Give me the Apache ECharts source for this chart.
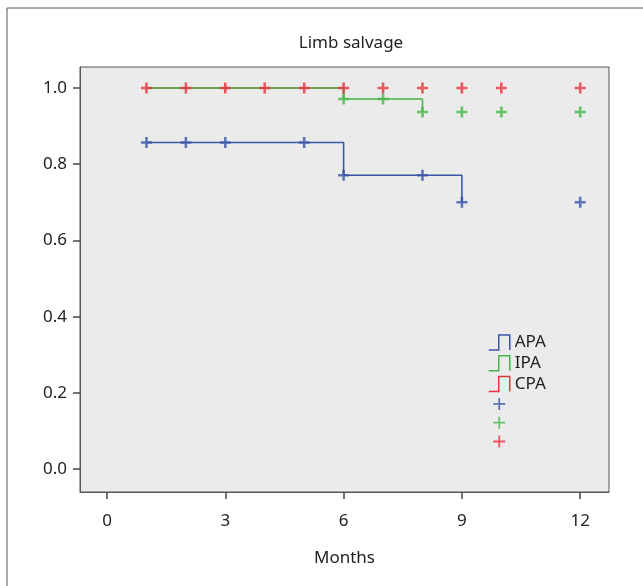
<!DOCTYPE html>
<html>
<head>
<meta charset="utf-8">
<script src="https://cdn.jsdelivr.net/npm/echarts@6/dist/echarts.min.js"></script>
<style>
html,body{margin:0;padding:0;background:#fff;}
#chart{width:643px;height:586px;}
</style>
</head>
<body>
<div id="chart"></div>
<script>
// ---- data ----
const xTicks = [0, 3, 6, 9, 12];
const yTicks = [0, 0.2, 0.4, 0.6, 0.8, 1.0];
const groups = ['APA', 'IPA', 'CPA'];
// Kaplan-Meier step points [month, survival]
const apaSteps = [[1, 0.857], [6, 0.771], [9, 0.70]];
const ipaSteps = [[1, 1.0], [6, 0.971], [8, 0.937]];
const cpaSteps = [[1, 1.0], [6, 1.0]];
// censored observations
const apaCensored = [[1, 0.857], [2, 0.857], [3, 0.857], [5, 0.857], [6, 0.771], [8, 0.771], [9, 0.70], [12, 0.70]];
const ipaCensored = [[6, 0.971], [7, 0.971], [8, 0.937], [9, 0.937], [10, 0.937], [12, 0.937]];
const cpaCensored = [[1, 1.0], [2, 1.0], [3, 1.0], [4, 1.0], [5, 1.0], [6, 1.0], [7, 1.0], [8, 1.0], [9, 1.0], [10, 1.0], [12, 1.0]];

const colors = ['#3a58a8', '#45b649', '#e8323c'];
const FONT = 'Noto Sans';
const plus = 'path://M4.2,0H6.8V4.2H11V6.8H6.8V11H4.2V6.8H0V4.2H4.2Z';
// legend plus: 12px cross inside a 15x15 box (tiny corner specks set the box)
const legendPlus = 'path://M0,0L0.01,0L0,0.01Z M15,15L14.99,15L15,14.99Z M6.6,1.5H8.4V6.6H13.5V8.4H8.4V13.5H6.6V8.4H1.5V6.6H6.6Z';
const stepIcon = 'path://M0,15H10V0H21V15';

const chart = echarts.init(document.getElementById('chart'));
const stepData = [apaSteps, ipaSteps, cpaSteps];
const censData = [apaCensored, ipaCensored, cpaCensored];
const series = [];
[2, 0, 1].forEach(i => {
  series.push({
    name: groups[i], type: 'line', step: 'end', data: stepData[i],
    symbol: 'none', color: colors[i], z: 2,
    lineStyle: { width: 1.6, color: colors[i] }
  });
});
[0, 1, 2].forEach(i => {
  series.push({
    name: groups[i] + ' censored', type: 'scatter', data: censData[i],
    symbol: plus, symbolSize: 11, color: colors[i], z: 3,
    itemStyle: { color: colors[i] }
  });
});

const legendData = groups.map((g, i) => ({
  name: g, icon: stepIcon,
  itemStyle: { color: 'transparent', borderColor: colors[i], borderWidth: 1.5 }
})).concat(groups.map((g, i) => ({
  name: g + ' censored', icon: legendPlus,
  itemStyle: { color: colors[i], borderWidth: 0 }
})));

chart.setOption({
  backgroundColor: '#ffffff',
  animation: false,
  title: {
    text: 'Limb salvage', left: 346, top: 30, textAlign: 'center',
    textStyle: { fontFamily: FONT, fontSize: 17, fontWeight: 'normal', color: '#222' }
  },
  grid: {
    left: 80, right: 34, top: 67, bottom: 94,
    show: true, backgroundColor: '#ebebeb', borderColor: '#555', borderWidth: 1
  },
  legend: {
    orient: 'vertical', left: 488, top: 334, padding: 0,
    itemWidth: 21, itemHeight: 15, itemGap: 3.8,
    data: legendData,
    formatter: n => n.indexOf('censored') >= 0 ? '' : n,
    textStyle: { fontFamily: FONT, fontSize: 17, color: '#222' },
    selectedMode: false
  },
  xAxis: {
    type: 'value', min: -0.685, max: 12.73,
    name: 'Months', nameLocation: 'middle', nameGap: 58,
    nameTextStyle: { fontFamily: FONT, fontSize: 17, color: '#222' },
    axisLine: { show: true, onZero: false, lineStyle: { color: '#555' } },
    axisTick: { show: true, length: 7, customValues: xTicks, lineStyle: { color: '#444', width: 1.5 } },
    axisLabel: { customValues: xTicks, margin: 21, fontFamily: FONT, fontSize: 17, color: '#222' },
    splitLine: { show: false }
  },
  yAxis: {
    type: 'value', min: -0.06, max: 1.055,
    axisLine: { show: true, onZero: false, lineStyle: { color: '#555' } },
    axisTick: { show: true, length: 7, customValues: yTicks, lineStyle: { color: '#444', width: 1.5 } },
    axisLabel: { customValues: yTicks, margin: 13, fontFamily: FONT, fontSize: 17, color: '#222',
      formatter: v => v.toFixed(1) },
    splitLine: { show: false }
  },
  graphic: [
    { type: 'line', shape: { x1: 7, y1: 8, x2: 643, y2: 8 }, style: { stroke: '#555', lineWidth: 1 } },
    { type: 'line', shape: { x1: 7, y1: 8, x2: 7, y2: 586 }, style: { stroke: '#555', lineWidth: 1 } }
  ],
  series: series
});
</script>
</body>
</html>
